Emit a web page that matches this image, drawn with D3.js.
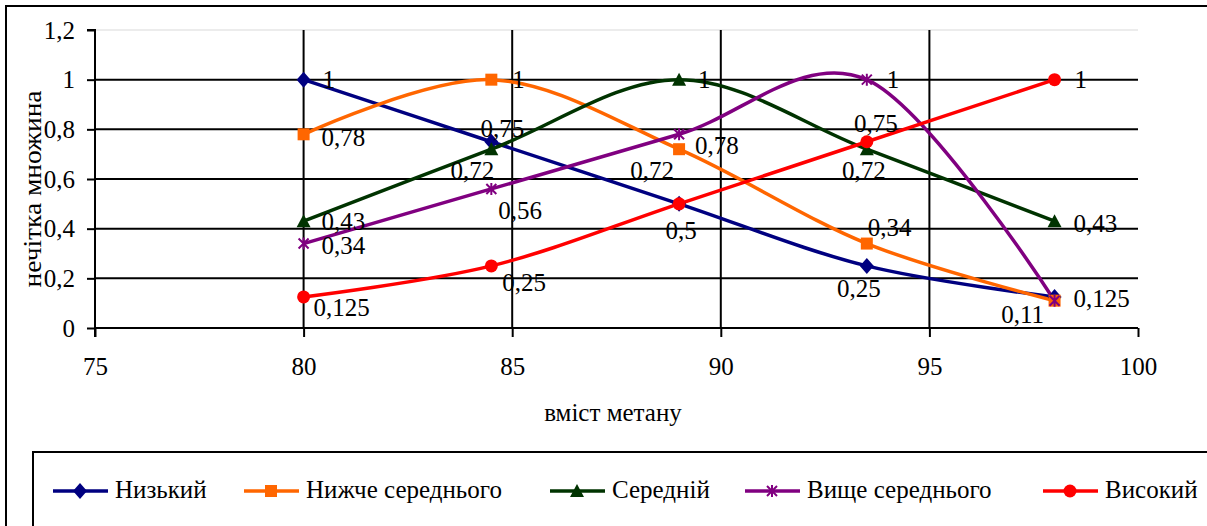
<!DOCTYPE html>
<html>
<head>
<meta charset="utf-8">
<script src="https://cdn.jsdelivr.net/npm/d3@7/dist/d3.min.js"></script>
<style>
  html, body { margin: 0; padding: 0; background: #fff; }
  svg { display: block; }
  svg text { font-family: "Liberation Serif", "Times New Roman", Times, "DejaVu Serif", serif !important; fill: #000; }
</style>
</head>
<body>
<svg id="chart" width="1207" height="526"></svg>
<script>
// Methane content levels (x values of every series)
const methane = [80, 84.5, 89, 93.5, 98];

// Membership degrees per fuzzy set
const nyzkyi       = [1, 0.75, 0.5, 0.25, 0.125];
const nyzhcheSer   = [0.78, 1, 0.72, 0.34, 0.11];
const serednii     = [0.43, 0.72, 1, 0.72, 0.43];
const vyshcheSer   = [0.34, 0.56, 0.78, 1, 0.11];
const vysokyi      = [0.125, 0.25, 0.5, 0.75, 1];

const seriesNames = ["Низький", "Нижче середнього", "Середній", "Вище середнього", "Високий"];

// Axis ticks
const xTicks = [75, 80, 85, 90, 95, 100];
const yTicks = [0, 0.2, 0.4, 0.6, 0.8, 1, 1.2];

// Label placement per point: [dx, dy, anchor]; null = label hidden
const labelPlacement = [
  [[19, 0, "start"], [11, -14, "middle"], [2, 26, "middle"], [-8, 22, "middle"], [19, 1, "start"]],
  [[18, 3, "start"], [21, 0, "start"], [-27, 21, "middle"], [1, -16, "start"], [-32, 14, "middle"]],
  [[18, 0, "start"], [-19, 21, "middle"], [19, 0, "start"], [-3, 21, "middle"], [19, 2, "start"]],
  [[18, 2, "start"], [7, 21, "start"], [16, 11, "start"], [20, 0, "start"], null],
  [[10, 10, "start"], [11, 16, "start"], null, [9, -19, "middle"], [20, 0, "start"]]
];

const colors = ["#000080", "#FF6600", "#003300", "#800080", "#FF0000"];
const markers = ["diamond", "square", "triangle", "star", "circle"];

const series = [nyzkyi, nyzhcheSer, serednii, vyshcheSer, vysokyi].map((vals, i) => ({
  name: seriesNames[i],
  color: colors[i],
  marker: markers[i],
  labels: labelPlacement[i],
  points: vals.map((v, j) => ({ x: methane[j], y: v }))
}));

const svg = d3.select("#chart");
const fmt = v => String(v).replace(".", ",");
const FS = 25;

// Outer chart frame
svg.append("rect").attr("x", 6).attr("y", 6).attr("width", 1230).attr("height", 560)
  .attr("fill", "#fff").attr("stroke", "#000").attr("stroke-width", 2);

const x = d3.scaleLinear().domain([75, 100]).range([95, 1138]);
const y = d3.scaleLinear().domain([0, 1.2]).range([328, 30]);

// Horizontal gridlines
svg.append("g").selectAll("line").data(yTicks.filter(t => t > 0)).join("line")
  .attr("x1", x(75)).attr("x2", x(100))
  .attr("y1", d => y(d)).attr("y2", d => y(d))
  .attr("stroke", d => d === 1.2 ? "#d9d9d9" : "#000")
  .attr("stroke-width", d => d === 1.2 ? 1 : 2);

// Vertical gridlines
svg.append("g").selectAll("line").data(xTicks.filter(t => t > 75 && t < 100)).join("line")
  .attr("x1", d => x(d)).attr("x2", d => x(d))
  .attr("y1", y(1.2)).attr("y2", y(0))
  .attr("stroke", "#000").attr("stroke-width", 2);

// Y axis
const yAxis = svg.append("g").attr("transform", `translate(${x(75)},0)`)
  .call(d3.axisLeft(y).tickValues(yTicks).tickSize(8).tickPadding(12).tickFormat(fmt));
yAxis.select(".domain").attr("stroke-width", 2).attr("d", `M-8,${y(1.2)}H0V${y(0) + 9}`);
yAxis.selectAll(".tick line").attr("stroke-width", 2);
yAxis.selectAll("text").attr("font-size", FS);

// X axis
const xAxis = svg.append("g").attr("transform", `translate(0,${y(0)})`)
  .call(d3.axisBottom(x).tickValues(xTicks).tickSize(9).tickPadding(20).tickFormat(d3.format("d")));
xAxis.select(".domain").attr("stroke-width", 2).attr("d", `M${x(75)},0H${x(100)}`);
xAxis.selectAll(".tick line").attr("stroke-width", 2);
xAxis.selectAll("text").attr("font-size", FS);

// Axis titles
svg.append("text").attr("x", 613).attr("y", 421)
  .attr("text-anchor", "middle").attr("font-size", FS).text("вміст метану");
svg.append("text").attr("transform", "translate(32,189) rotate(-90)").attr("dy", "0.35em")
  .attr("text-anchor", "middle").attr("font-size", FS)
  .attr("textLength", 197).attr("lengthAdjust", "spacingAndGlyphs")
  .text("нечітка множина");

// Marker drawing
function drawMarker(g, type, color) {
  if (type === "diamond") {
    g.append("path").attr("d", "M0,-8L7,0L0,8L-7,0Z").attr("fill", color);
  } else if (type === "square") {
    g.append("rect").attr("x", -6).attr("y", -6).attr("width", 12).attr("height", 12).attr("fill", color);
  } else if (type === "triangle") {
    g.append("path").attr("d", "M0,-7L7,6L-7,6Z").attr("fill", color);
  } else if (type === "star") {
    g.append("path").attr("d", "M-5,-5L5,5M-5,5L5,-5M0,-6V6")
      .attr("stroke", color).attr("stroke-width", 2).attr("fill", "none");
  } else if (type === "circle") {
    g.append("circle").attr("r", 6.5).attr("fill", color);
  }
}

const line = d3.line().x(d => x(d.x)).y(d => y(d.y)).curve(d3.curveCardinal.tension(0));

const plot = svg.append("g");
series.forEach(s => {
  plot.append("path").datum(s.points).attr("d", line)
    .attr("fill", "none").attr("stroke", s.color).attr("stroke-width", 3.5);
});
series.forEach(s => {
  s.points.forEach(p => {
    const g = plot.append("g").attr("transform", `translate(${x(p.x)},${y(p.y)})`);
    drawMarker(g, s.marker, s.color);
  });
});

// Data labels
const labels = svg.append("g");
series.forEach(s => {
  s.points.forEach((p, j) => {
    const pl = s.labels[j];
    if (!pl) return;
    labels.append("text").attr("font-size", FS)
      .attr("x", x(p.x) + pl[0]).attr("y", y(p.y) + pl[1]).attr("dy", "0.35em")
      .attr("text-anchor", pl[2]).text(fmt(p.y));
  });
});

// Legend
svg.append("rect").attr("x", 33).attr("y", 452).attr("width", 1200).attr("height", 100)
  .attr("fill", "#fff").attr("stroke", "#000").attr("stroke-width", 2);
const legendX = [53, 244, 550, 745, 1043];
const legend = svg.append("g");
series.forEach((s, i) => {
  const g = legend.append("g").attr("transform", `translate(${legendX[i]},491)`);
  g.append("line").attr("x1", 0).attr("x2", 55).attr("stroke", s.color).attr("stroke-width", 3.5);
  const m = g.append("g").attr("transform", "translate(27,0)");
  drawMarker(m, s.marker, s.color);
  g.append("text").attr("x", 62).attr("y", 7).attr("font-size", FS).text(s.name);
});
</script>
</body>
</html>
